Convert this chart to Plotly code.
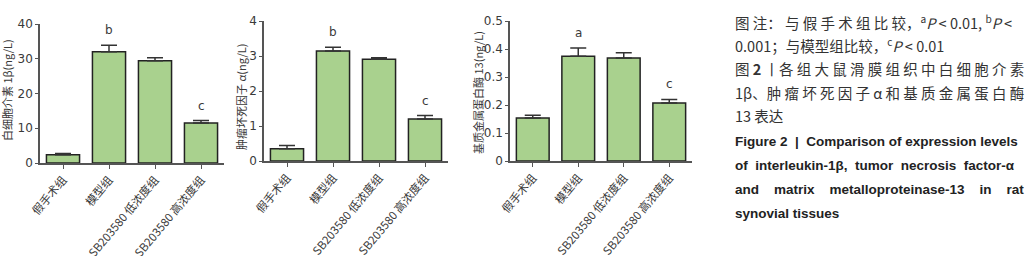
import plotly.graph_objects as go

categories = ["假手术组", "模型组", "SB203580 低浓度组", "SB203580 高浓度组"]

il1b_values = [2.4, 32.0, 29.4, 11.5]
il1b_errors = [0.3, 1.9, 0.9, 0.7]
il1b_letters = ["", "b", "", "c"]

tnfa_values = [0.35, 3.14, 2.91, 1.2]
tnfa_errors = [0.09, 0.11, 0.04, 0.1]
tnfa_letters = ["", "b", "", "c"]

mmp13_values = [0.154, 0.374, 0.368, 0.207]
mmp13_errors = [0.009, 0.03, 0.019, 0.013]
mmp13_letters = ["", "a", "", "c"]

y_titles = ["白细胞介素 1β(ng/L)", "肿瘤坏死因子 α(ng/L)", "基质金属蛋白酶 13(ng/L)"]
y_ranges = [[0, 40], [0, 4], [0, 0.5]]
y_dticks = [10, 1, 0.1]

caption_cn = [
    "图 注： 与 假 手 术 组 比 较，<sup>a</sup><i>P</i> < 0.01, <sup>b</sup><i>P</i> <",
    "0.001；与模型组比较，<sup>c</sup><i>P</i> < 0.01",
    "图 <b>2</b> 丨各 组 大 鼠 滑 膜 组 织 中 白 细 胞 介 素",
    "1β、肿 瘤 坏 死 因 子 α 和 基 质 金 属 蛋 白 酶",
    "13 表达",
]
caption_en = [
    "Figure 2  |  Comparison of expression levels",
    "of  interleukin-1β,  tumor  necrosis  factor-α",
    "and    matrix    metalloproteinase-13    in    rat",
    "synovial tissues",
]

W, H = 1036, 256
# pixel layout of the three panels: (x_left, x_right, y_top, y_bottom)
panels_px = [(40, 224, 24, 163), (264, 448, 21, 161), (510, 692, 21, 161)]
ytitle_px = [(7, 90), (241, 97), (478, 93)]

BAR_COLOR = "#a9d18e"
EDGE = "#222222"
AXIS = "#555555"
TXT = "#3a3a3a"
FONT = "DejaVu Sans"
XFONT = "Noto Sans CJK SC"

fig = go.Figure()
layout = dict(
    width=W, height=H, margin=dict(l=0, r=0, t=0, b=0),
    paper_bgcolor="white", plot_bgcolor="white", showlegend=False,
    bargap=0.28,
)
annotations = []

series = [
    (il1b_values, il1b_errors, il1b_letters),
    (tnfa_values, tnfa_errors, tnfa_letters),
    (mmp13_values, mmp13_errors, mmp13_letters),
]

for i, (vals, errs, letters) in enumerate(series):
    n = "" if i == 0 else str(i + 1)
    xl, xr, yt, yb = panels_px[i]
    fig.add_trace(go.Bar(
        x=categories, y=vals, xaxis="x" + n, yaxis="y" + n,
        marker=dict(color=BAR_COLOR, line=dict(color=EDGE, width=1.5)),
        error_y=dict(type="data", array=errs, arrayminus=[0] * len(errs),
                     symmetric=False, color="#333333", thickness=1.5, width=8),
    ))
    layout["xaxis" + n] = dict(
        domain=[xl / W, xr / W], anchor="y" + n,
        showline=True, linecolor=AXIS, linewidth=1.5,
        ticks="outside", ticklen=4, tickcolor=AXIS, tickwidth=1,
        tickangle=-50, tickfont=dict(family=XFONT, size=11.5, color=TXT),
        showgrid=False, zeroline=False, automargin=False,
    )
    layout["yaxis" + n] = dict(
        domain=[(H - yb) / H, (H - yt) / H], anchor="x" + n,
        range=y_ranges[i], dtick=y_dticks[i], tick0=0,
        showline=True, linecolor=AXIS, linewidth=1.5,
        ticks="outside", ticklen=3, tickcolor=AXIS, tickwidth=1,
        tickfont=dict(family=FONT, size=12, color=TXT),
        showgrid=False, zeroline=False, automargin=False,
    )
    for c, v, e, lt in zip(categories, vals, errs, letters):
        if lt:
            annotations.append(dict(
                x=c, y=v + e, xref="x" + n, yref="y" + n, text=lt,
                showarrow=False, yanchor="bottom", yshift=6,
                font=dict(family=FONT, size=12, color=TXT),
            ))
    tx, ty = ytitle_px[i]
    annotations.append(dict(
        x=tx / W, y=(H - ty) / H, xref="paper", yref="paper",
        text=y_titles[i], textangle=-90, showarrow=False,
        xanchor="center", yanchor="middle",
        font=dict(family="Noto Sans CJK SC", size=11, color=TXT),
    ))

cn_y = [22, 45, 68, 92, 115]
for line, yy in zip(caption_cn, cn_y):
    annotations.append(dict(
        x=733 / W, y=(H - yy) / H, xref="paper", yref="paper", text=line,
        showarrow=False, xanchor="left", yanchor="middle", align="left",
        font=dict(family="Noto Sans CJK SC", size=14.5, color="#333333"),
    ))
en_y = [141, 165, 189, 213]
for line, yy in zip(caption_en, en_y):
    annotations.append(dict(
        x=733 / W, y=(H - yy) / H, xref="paper", yref="paper",
        text="<b>" + line + "</b>",
        showarrow=False, xanchor="left", yanchor="middle", align="left",
        font=dict(family="Liberation Sans", size=13.5, color="#222222"),
    ))

layout["annotations"] = annotations
fig.update_layout(**layout)
fig.write_html(
    "out.html",
    config={"displayModeBar": False},
    post_script="document.body.style.margin='0';document.body.style.overflow='hidden';",
)
